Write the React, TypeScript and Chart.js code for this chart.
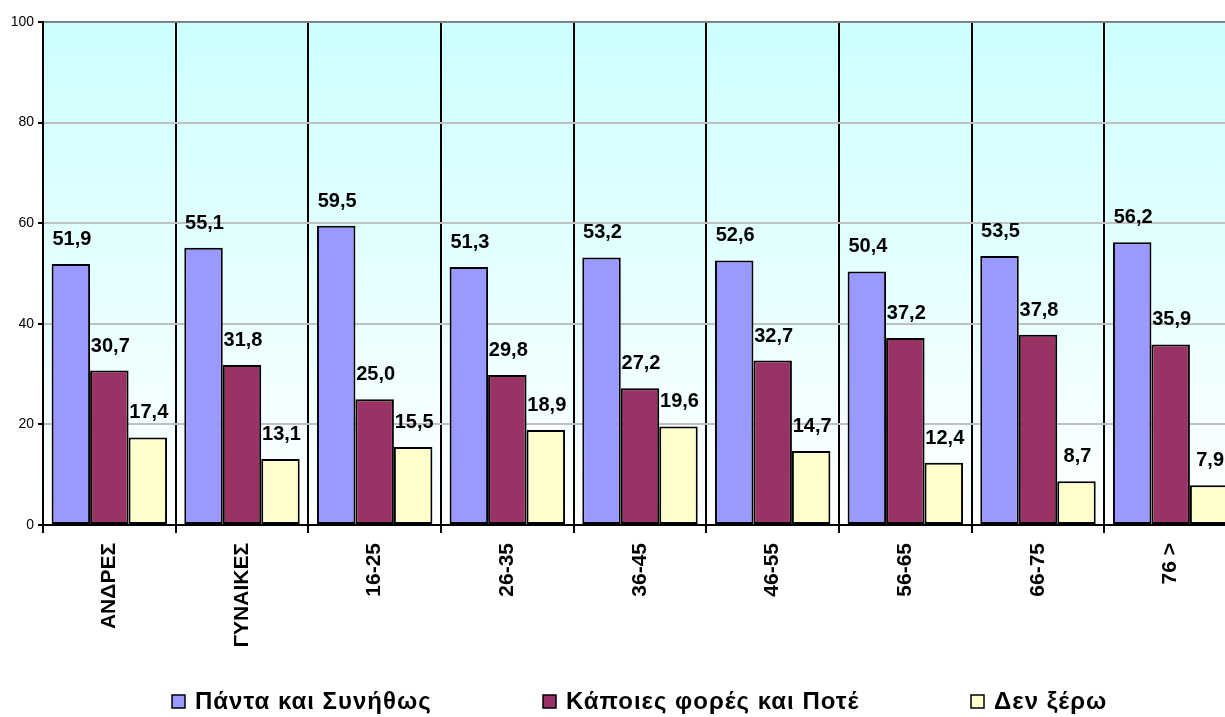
import React, { useEffect, useRef } from "react";
import { Chart, registerables } from "chart.js";

Chart.register(...registerables);

const categories = ["ΑΝΔΡΕΣ", "ΓΥΝΑΙΚΕΣ", "16-25", "26-35", "36-45", "46-55", "56-65", "66-75", "76 >"];
const seriesNames = ["Πάντα και Συνήθως", "Κάποιες φορές και Ποτέ", "Δεν ξέρω"];
const alwaysValues = [51.9, 55.1, 59.5, 51.3, 53.2, 52.6, 50.4, 53.5, 56.2];
const sometimesValues = [30.7, 31.8, 25.0, 29.8, 27.2, 32.7, 37.2, 37.8, 35.9];
const dontKnowValues = [17.4, 13.1, 15.5, 18.9, 19.6, 14.7, 12.4, 8.7, 7.9];
const yTicks = [0, 20, 40, 60, 80, 100];
const seriesColors = ["#9999ff", "#993366", "#ffffcc"];

const FONT = "'Liberation Sans', Arial, sans-serif";

const bgPlugin = {
  id: "bgGradient",
  beforeDraw(chart: any) {
    const { ctx, chartArea } = chart;
    if (!chartArea) return;
    const g = ctx.createLinearGradient(0, chartArea.top, 0, chartArea.bottom);
    g.addColorStop(0, "#ccffff");
    g.addColorStop(1, "#ffffff");
    ctx.save();
    ctx.fillStyle = g;
    ctx.fillRect(chartArea.left, chartArea.top, chartArea.right - chartArea.left, chartArea.bottom - chartArea.top);
    ctx.restore();
  },
};

const labelPlugin = {
  id: "valueLabels",
  afterDatasetsDraw(chart: any) {
    const { ctx } = chart;
    ctx.save();
    ctx.font = `bold 20px ${FONT}`;
    ctx.fillStyle = "#000";
    ctx.textAlign = "center";
    ctx.textBaseline = "alphabetic";
    chart.data.datasets.forEach((ds: any, i: number) => {
      const meta = chart.getDatasetMeta(i);
      meta.data.forEach((bar: any, j: number) => {
        const v = ds.data[j] as number;
        ctx.fillText(v.toFixed(1).replace(".", ","), bar.x + 1, bar.y - 19);
      });
    });
    ctx.restore();
  },
};

const legendX = [172, 543, 971];
const legendPlugin = {
  id: "customLegend",
  afterDraw(chart: any) {
    const { ctx } = chart;
    ctx.save();
    ctx.font = `bold 24px ${FONT}`;
    try { (ctx as any).letterSpacing = "1px"; } catch (e) {}
    ctx.textBaseline = "middle";
    ctx.textAlign = "left";
    chart.data.datasets.forEach((ds: any, i: number) => {
      const x = legendX[i];
      const y = 695;
      ctx.fillStyle = ds.backgroundColor;
      ctx.fillRect(x, y, 13, 13);
      ctx.strokeStyle = "#000";
      ctx.lineWidth = 1.5;
      ctx.strokeRect(x, y, 13, 13);
      ctx.fillStyle = "#000";
      ctx.fillText(ds.label, x + 23, y + 7);
    });
    ctx.restore();
  },
};

export default function App() {
  const ref = useRef<HTMLCanvasElement>(null);
  useEffect(() => {
    if (!ref.current) return;
    const data = [alwaysValues, sometimesValues, dontKnowValues];
    const chart = new Chart(ref.current, {
      type: "bar",
      data: {
        labels: categories,
        datasets: seriesNames.map((name, i) => ({
          label: name,
          data: data[i],
          backgroundColor: seriesColors[i],
          borderColor: "#000000",
          borderWidth: 2,
          borderSkipped: false,
          categoryPercentage: 0.87,
          barPercentage: 1,
        })),
      },
      options: {
        responsive: false,
        animation: false,
        layout: { padding: { top: 22, left: 0, right: 3, bottom: 0 } },
        plugins: {
          legend: { display: false },
          tooltip: { enabled: false },
        },
        scales: {
          x: {
            grid: {
              offset: true,
              color: "#000000",
              lineWidth: 2,
              tickLength: 8,
              drawOnChartArea: true,
            },
            border: { color: "#000000", width: 2 },
            ticks: {
              color: "#000",
              font: { family: FONT, size: 21, weight: "bold" },
              minRotation: 90,
              maxRotation: 90,
              padding: 10,
              autoSkip: false,
            },
            afterFit(scale: any) {
              scale.height = 717 - 525;
              scale.paddingLeft = 0;
              scale.paddingRight = 0;
            },
          },
          y: {
            min: 0,
            max: 100,
            afterBuildTicks(scale: any) {
              scale.ticks = yTicks.map((v) => ({ value: v }));
            },
            grid: {
              color: (c: any) => (c.tick && c.tick.value === 100 ? "#808080" : "#c0c0c0"),
              tickColor: "#000000",
              lineWidth: 2,
              tickLength: 5,
            },
            border: { color: "#000000", width: 2 },
            ticks: {
              color: "#000",
              font: { family: FONT, size: 14 },
              padding: 4,
            },
            afterFit(scale: any) {
              scale.width = 43;
              scale.paddingTop = 0;
              scale.paddingBottom = 0;
            },
          },
        },
      },
      plugins: [bgPlugin, labelPlugin, legendPlugin],
    });
    return () => chart.destroy();
  }, []);
  return (
    <div style={{ position: "absolute", left: 0, top: 0, width: 1225, height: 717, overflow: "hidden", background: "#fff" }}>
      <canvas ref={ref} width={1240} height={717} style={{ display: "block", width: 1240, height: 717 }} />
    </div>
  );
}
